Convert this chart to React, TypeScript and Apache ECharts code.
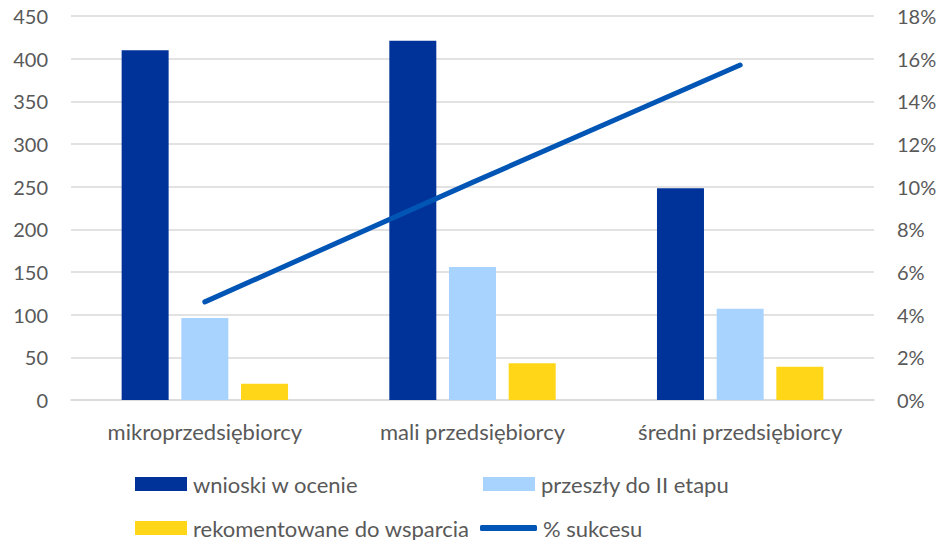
import React, { useEffect, useRef } from "react";
import * as echarts from "echarts";

const categories = ["mikroprzedsiębiorcy", "mali przedsiębiorcy", "średni przedsiębiorcy"];
const wnioski = [410, 421, 248];
const przeszly = [96, 156, 107];
const rekomendowane = [19, 43, 39];
const sukces = [4.6, 10.2, 15.7];

const FONT = "Lato";
const TXT = "#595959";

export default function App() {
  const ref = useRef<HTMLDivElement>(null);
  useEffect(() => {
    if (!ref.current) return;
    const chart = echarts.init(ref.current, null, { renderer: "svg" });
    const legendBase = {
      orient: "horizontal",
      padding: 0,
      itemGap: 0,
      itemWidth: 52,
      itemHeight: 14,
      icon: "rect",
      textStyle: { color: TXT, fontSize: 22, fontFamily: FONT, padding: [0, 0, 0, 1], lineHeight: 26 },
    };
    chart.setOption({
      animation: false,
      textStyle: { fontFamily: FONT },
      grid: { left: 71, right: 66, top: 16, bottom: 140 },
      legend: [
        { ...legendBase, left: 135, top: 471, data: ["wnioski w ocenie"] },
        { ...legendBase, left: 483, top: 471, data: ["przeszły do II etapu"] },
        { ...legendBase, left: 135, top: 515, data: ["rekomentowane do wsparcia"] },
        {
          ...legendBase,
          left: 480,
          top: 515,
          itemWidth: 57,
          itemHeight: 6,
          icon: "roundRect",
          data: [{ name: "% sukcesu", icon: "roundRect" }],
        },
      ],
      xAxis: {
        type: "category",
        data: categories,
        axisLine: { show: true, lineStyle: { color: "#D9D9D9", width: 1.5 } },
        axisTick: { show: false },
        axisLabel: { color: TXT, fontSize: 22, fontFamily: FONT, margin: 20 },
      },
      yAxis: [
        {
          type: "value",
          min: 0,
          max: 450,
          interval: 50,
          axisLine: { show: false },
          axisTick: { show: false },
          splitLine: { lineStyle: { color: "#D9D9D9", width: 1.5 } },
          axisLabel: { color: TXT, fontSize: 20, fontFamily: FONT, margin: 23 },
        },
        {
          type: "value",
          min: 0,
          max: 18,
          interval: 2,
          position: "right",
          axisLine: { show: false },
          axisTick: { show: false },
          splitLine: { show: false },
          axisLabel: { color: TXT, fontSize: 20, fontFamily: FONT, margin: 23, formatter: "{value}%" },
        },
      ],
      series: [
        {
          name: "wnioski w ocenie",
          type: "bar",
          data: wnioski,
          barWidth: 47,
          barGap: "27%",
          itemStyle: { color: "#003399" },
        },
        {
          name: "przeszły do II etapu",
          type: "bar",
          data: przeszly,
          barWidth: 47,
          barGap: "27%",
          itemStyle: { color: "#A9D3FF" },
        },
        {
          name: "rekomentowane do wsparcia",
          type: "bar",
          data: rekomendowane,
          barWidth: 47,
          barGap: "27%",
          itemStyle: { color: "#FFD618" },
        },
        {
          name: "% sukcesu",
          type: "line",
          yAxisIndex: 1,
          data: sukces,
          symbol: "none",
          showSymbol: false,
          lineStyle: { color: "#0055B5", width: 5, cap: "round" },
          itemStyle: { color: "#0055B5" },
        },
      ],
    });
    return () => chart.dispose();
  }, []);
  return <div ref={ref} style={{ width: 940, height: 540, position: "absolute", left: 0, top: 0 }} />;
}
